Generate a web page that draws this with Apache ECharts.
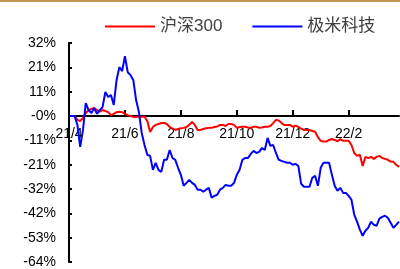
<!DOCTYPE html>
<html>
<head>
    <meta charset="utf-8">
    <title>沪深300 vs 极米科技</title>
    <script src="https://cdn.jsdelivr.net/npm/echarts@6/dist/echarts.min.js"></script>
    <style>
        html, body { margin: 0; padding: 0; background: #fff; }
        #chart { width: 400px; height: 269px; }
    </style>
</head>
<body>
<div id="chart"></div>
<script>
    // x 轴刻度
    var tickLabels = ['21/4', '21/6', '21/8', '21/10', '21/12', '22/2'];
    var tickAt = [0, 20, 40, 60, 80, 100];
    // y 轴刻度
    var yLabels = ['-64%', '-53%', '-42%', '-32%', '-21%', '-11%', '-0%', '11%', '21%', '32%'];

    // 累计涨跌幅 (%)
    var hs300 = [0, 0, 0, -1.7, -2.2, -0.9, 1.3, 2.6, 3.1, 3.5,
        2.6, 1.9, 2.6, 2.2, 1.7, 0.4, 0.9, 1.7, 1.9, 1.7,
        0.9, 0.4, 0, -0.4, -0.4, -0.2, -0.3, -0.3, -2.2, -7.0,
        -4.8, -3.9, -3.5, -3.1, -3.1, -3.5, -4.8, -5.5, -6.1, -5.7,
        -5.4, -5.2, -4.8, -3.9, -2.6, -3.9, -6.1, -6.1, -5.7, -5.4,
        -5.2, -5.2, -4.8, -4.6, -3.9, -3.9, -4.4, -3.5, -3.5, -3.9,
        -5.2, -4.8, -4.7, -4.7, -5.0, -5.2, -4.7, -4.7, -5.2, -5.0,
        -4.7, -4.7, -4.4, -3.1, -1.7, -2.0, -3.1, -3.9, -3.9, -3.9,
        -4.7, -4.2, -4.8, -5.5, -6.1, -6.1, -6.1, -6.6, -6.9, -9.2,
        -10.9, -11.2, -11.2, -10.5, -10.1, -10.5, -11.1, -10.1, -10.9, -10.9,
        -10.9, -12.7, -16.2, -17.5, -17.0, -21.9, -17.9, -18.5, -17.9, -18.8,
        -17.9, -17.5, -18.4, -18.8, -19.2, -20.0, -20.1, -21.4, -22.3];
    var jimi = [0, 0, 0, -3.9, -13.5, -6.1, 5.7, 2.6, 1.3, 3.5,
        0.9, 2.6, 3.9, 10.5, 8.3, 9.2, 4.8, 15.7, 21.4, 19.7,
        26.2, 19.2, 17.9, 15.7, 7.0, 1.7, -7.4, -12.7, -17.0, -17.5,
        -23.6, -20.5, -23.6, -24.5, -19.2, -19.2, -14.9, -18.4, -19.2, -22.7,
        -25.8, -30.6, -29.3, -28.0, -29.3, -30.2, -32.3, -32.3, -33.2, -32.3,
        -31.5, -35.8, -35.0, -34.5, -32.3, -31.5, -30.2, -30.6, -30.6, -29.3,
        -25.8, -23.6, -19.2, -18.4, -18.4, -16.6, -15.3, -16.2, -15.7, -14.0,
        -14.9, -9.6, -13.1, -12.7, -16.2, -19.2, -19.7, -20.1, -20.5, -20.5,
        -21.4, -21.0, -21.9, -29.7, -31.0, -31.0, -31.0, -27.1, -26.2, -30.6,
        -22.7, -20.5, -20.5, -20.5, -25.8, -30.6, -32.8, -31.5, -33.7, -33.7,
        -35.0, -36.7, -43.3, -46.3, -49.8, -52.5, -50.3, -49.0, -46.3, -47.7,
        -48.1, -45.0, -44.2, -43.7, -44.6, -46.8, -49.0, -47.7, -46.3];

    var days = hs300.map(function (v, i) { return i; });

    var yMin = -64, yMax = 32, yStep = 32 / 3;
    var gridTop = 43, gridBottom = 7, chartH = 269;
    // x 轴放在 0 值处: 相对网格底边的偏移
    var plotH = chartH - gridTop - gridBottom;
    var zeroOffset = -Math.round(plotH * (0 - yMin) / (yMax - yMin));

    var chart = echarts.init(document.getElementById('chart'), null, { renderer: 'canvas' });
    var option = {
        animation: false,
        textStyle: { fontFamily: 'Liberation Sans, Noto Sans CJK SC, sans-serif' },
        graphic: [{
            type: 'rect',
            left: 0, top: 0,
            shape: { width: 400, height: 2 },
            style: { fill: '#C4964F' }
        }],
        legend: {
            left: 100,
            top: 13,
            itemWidth: 50,
            itemHeight: 2,
            itemGap: 30,
            icon: 'rect',
            textStyle: { fontSize: 17, color: '#404040' },
            data: ['沪深300', '极米科技']
        },
        grid: {
            left: 69,
            right: 1,
            top: gridTop,
            bottom: gridBottom,
            containLabel: false,
            outerBoundsMode: 'none'
        },
        xAxis: {
            type: 'category',
            boundaryGap: false,
            data: days,
            position: 'bottom',
            offset: zeroOffset,
            axisLine: { onZero: false, lineStyle: { color: '#000', width: 2 } },
            axisTick: {
                inside: true,
                length: 6,
                interval: function (idx) { return tickAt.indexOf(idx) >= 0; },
                lineStyle: { color: '#000', width: 2 }
            },
            axisLabel: {
                interval: function (idx) { return tickAt.indexOf(idx) >= 0; },
                formatter: function (v, idx) { return tickLabels[tickAt.indexOf(idx)]; },
                fontSize: 14,
                color: '#000',
                margin: 11
            },
            splitLine: { show: false }
        },
        yAxis: {
            type: 'value',
            min: yMin,
            max: yMax,
            interval: yStep,
            axisLine: { show: true, lineStyle: { color: '#000', width: 2 } },
            axisTick: { show: true, inside: true, length: 3, lineStyle: { color: '#000', width: 2 } },
            axisLabel: {
                fontSize: 14,
                color: '#000',
                margin: 13,
                formatter: function (v) {
                    return yLabels[Math.round((v - yMin) / yStep)];
                }
            },
            splitLine: { show: false }
        },
        series: [
            {
                name: '沪深300',
                type: 'line',
                data: hs300,
                showSymbol: false,
                lineStyle: { color: '#FF0000', width: 2 },
                itemStyle: { color: '#FF0000' }
            },
            {
                name: '极米科技',
                type: 'line',
                data: jimi,
                showSymbol: false,
                lineStyle: { color: '#0000FF', width: 2 },
                itemStyle: { color: '#0000FF' }
            }
        ]
    };
    chart.setOption(option);

    window.onresize = function () {
        chart.resize();
    };
</script>
</body>
</html>
